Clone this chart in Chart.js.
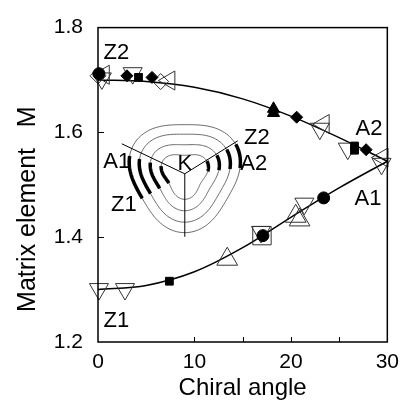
<!DOCTYPE html>
<html>
<head>
<meta charset="utf-8">
<script src="https://cdn.jsdelivr.net/npm/chart.js@4"></script>
<style>
  html, body { margin: 0; padding: 0; background: #fff; }
  #wrap { width: 407px; height: 407px; }
</style>
</head>
<body>
<div id="wrap"><canvas id="chart" width="407" height="407"></canvas></div>
<script>
// fitted curves
const curveAngles = [0, 5, 10, 15, 20, 25, 30];
const upperCurve  = [1.700, 1.697, 1.686, 1.664, 1.631, 1.590, 1.545];
const lowerCurve  = [1.300, 1.308, 1.334, 1.380, 1.438, 1.494, 1.545];

// measured points, [chiral angle, M]
const openDown      = [[0.1, 1.301], [2.8, 1.301], [0.4, 1.703], [3.6, 1.713], [16.9, 1.410],
                       [21.4, 1.464], [23.0, 1.607], [25.9, 1.569], [29.4, 1.540]];
const openUp        = [[13.4, 1.358], [20.5, 1.440], [20.9, 1.433]];
const openLeft      = [[0.6, 1.710], [7.4, 1.699], [23.4, 1.616], [29.5, 1.552]];
const openDiamond   = [[0.0, 1.708], [6.5, 1.697]];
const openSquare    = [[17.0, 1.403]];
const solidCircle   = [[0.1, 1.712], [17.1, 1.403], [23.4, 1.475]];
const solidSquare   = [[4.2, 1.705], [7.4, 1.316], [26.6, 1.574], [26.6, 1.566]];
const solidDiamond  = [[3.0, 1.708], [5.6, 1.705], [20.6, 1.629], [27.8, 1.567]];
const solidTriangle = [[18.2, 1.645], [18.2, 1.637]];

// axis ticks
const xLabelTicks = [0, 10, 20, 30];
const xMinorTicks = [10, 15, 20, 25];
const yLabelTicks = [1.2, 1.4, 1.6, 1.8];
const yMinorTicks = [1.4, 1.6];

// branch labels [text, angle, M]
const branchLabels = [['Z2', 1.9, 1.752], ['A2', 28.1, 1.606], ['A1', 28.0, 1.473], ['Z1', 1.9, 1.240]];

const FONT = "'Liberation Sans', Arial, Helvetica, sans-serif";
const NB = '\u00a0';
const toPts = arr => arr.map(p => ({ x: p[0], y: p[1] }));

function markers(data, style, radius, filled, rotation) {
  return {
    data: toPts(data),
    pointStyle: style,
    pointRadius: radius,
    pointRotation: rotation || 0,
    pointBackgroundColor: filled ? '#000' : 'rgba(0,0,0,0)',
    pointBorderColor: filled ? '#000' : '#333',
    pointBorderWidth: 1,
    showLine: false,
    clip: false,
    order: 0
  };
}

function curve(ys) {
  return {
    data: curveAngles.map((x, i) => ({ x, y: ys[i] })),
    showLine: true,
    borderColor: '#000',
    borderWidth: 1.5,
    pointRadius: 0,
    cubicInterpolationMode: 'monotone',
    clip: false,
    order: 10
  };
}

// frame, inward ticks, labels and the K-point sketch
const decor = {
  id: 'decor',
  beforeDatasetsDraw(chart) {
    const { ctx, scales: { x, y } } = chart;
    const cx = x.getPixelForValue(9.0), cy = y.getPixelForValue(1.521);
    ctx.save();
    // contours around K
    const radii = [54, 44, 33, 22], warp = [0.09, 0.1, 0.12, 0.16];
    ctx.strokeStyle = '#444';
    ctx.lineWidth = 0.8;
    radii.forEach((R, k) => {
      ctx.beginPath();
      for (let i = 0; i <= 180; i++) {
        const t = i / 180 * Math.PI * 2;
        const r = R * (1 + warp[k] * Math.cos(3 * (t - Math.PI / 2)));
        const px = cx + r * Math.cos(t), py = cy + r * Math.sin(t);
        i ? ctx.lineTo(px, py) : ctx.moveTo(px, py);
      }
      ctx.closePath();
      ctx.stroke();
    });
    // thick arcs
    ctx.strokeStyle = '#000';
    ctx.lineWidth = 3.5;
    const arc = (R, e, a0, a1) => {
      ctx.beginPath();
      for (let i = 0; i <= 30; i++) {
        const t = (a0 + (a1 - a0) * i / 30) * Math.PI / 180;
        const r = R * (1 + e * Math.cos(3 * (t - Math.PI / 2)));
        const px = cx + r * Math.cos(t), py = cy + r * Math.sin(t);
        i ? ctx.lineTo(px, py) : ctx.moveTo(px, py);
      }
      ctx.stroke();
    };
    radii.forEach((R, k) => {
      arc(R, warp[k], 150, 198);
      arc(R, warp[k], -30, -6);
    });
    // lines from K
    ctx.lineWidth = 1;
    ctx.beginPath();
    ctx.moveTo(cx - 63, cy - 30); ctx.lineTo(cx, cy); ctx.lineTo(cx + 53, cy - 33);
    ctx.moveTo(cx, cy); ctx.lineTo(cx, cy + 63);
    ctx.stroke();
    // inset labels
    ctx.fillStyle = '#000';
    ctx.font = '22px ' + FONT;
    ctx.textAlign = 'center';
    ctx.textBaseline = 'middle';
    [['A1', -68, -12], ['Z1', -61, 31], ['K', 0, -10], ['Z2', 72, -36], ['A2', 69, -10]]
      .forEach(([s, dx, dy]) => ctx.fillText(s, cx + dx, cy + dy));
    ctx.restore();
  },
  afterDraw(chart) {
    const { ctx, chartArea: a, scales: { x, y } } = chart;
    ctx.save();
    ctx.strokeStyle = '#000';
    ctx.lineWidth = 1.5;
    ctx.strokeRect(a.left, a.top, a.right - a.left, a.bottom - a.top);
    ctx.lineWidth = 1;
    ctx.beginPath();
    xMinorTicks.forEach(v => {
      const px = Math.round(x.getPixelForValue(v)) + 0.5;
      ctx.moveTo(px, a.bottom); ctx.lineTo(px, a.bottom - 5);
    });
    yMinorTicks.forEach(v => {
      const py = Math.round(y.getPixelForValue(v)) + 0.5;
      ctx.moveTo(a.left, py); ctx.lineTo(a.left + 6, py);
    });
    ctx.stroke();
    ctx.fillStyle = '#000';
    ctx.font = '22px ' + FONT;
    ctx.textAlign = 'center';
    ctx.textBaseline = 'middle';
    branchLabels.forEach(([s, ax, m]) => ctx.fillText(s, x.getPixelForValue(ax), y.getPixelForValue(m)));
    ctx.restore();
  }
};

new Chart(document.getElementById('chart'), {
  type: 'scatter',
  data: {
    datasets: [
      markers(solidCircle, 'circle', 6, true),
      markers(solidSquare, 'rect', 5.5, true),
      markers(solidDiamond, 'rectRot', 6, true),
      markers(solidTriangle, 'triangle', 7, true),
      markers(openDown, 'triangle', 11, false, 180),
      markers(openUp, 'triangle', 12, false),
      markers(openLeft, 'triangle', 11, false, -90),
      markers(openDiamond, 'rectRot', 8, false),
      markers(openSquare, 'rect', 13, false),
      curve(upperCurve),
      curve(lowerCurve)
    ]
  },
  options: {
    responsive: false,
    animation: false,
    layout: { padding: { top: 15, right: 15, left: 0, bottom: 0 } },
    plugins: { legend: { display: false }, tooltip: { enabled: false } },
    scales: {
      x: {
        type: 'linear', min: 0, max: 30,
        afterFit(s) { s.height = 65; },
        afterBuildTicks(s) { s.ticks = xLabelTicks.map(v => ({ value: v })); },
        grid: { display: false, drawTicks: false },
        border: { display: false },
        ticks: { color: '#000', font: { family: FONT, size: 21 }, padding: 8, maxRotation: 0 },
        title: { display: true, text: 'Chiral angle', color: '#000',
                 font: { family: FONT, size: 24 }, padding: { top: 0, bottom: 4 } }
      },
      y: {
        min: 1.2, max: 1.8,
        afterFit(s) { s.width = 98; },
        afterBuildTicks(s) { s.ticks = yLabelTicks.map(v => ({ value: v })); },
        grid: { display: false, drawTicks: false },
        border: { display: false },
        ticks: { color: '#000', font: { family: FONT, size: 21 }, padding: 15,
                 callback: v => v.toFixed(1) },
        title: { display: true, text: 'Matrix element' + NB.repeat(3) + 'M' + NB.repeat(7), color: '#000',
                 font: { family: FONT, size: 25 }, padding: { top: 13, bottom: 0 } }
      }
    }
  },
  plugins: [decor]
});
</script>
</body>
</html>
